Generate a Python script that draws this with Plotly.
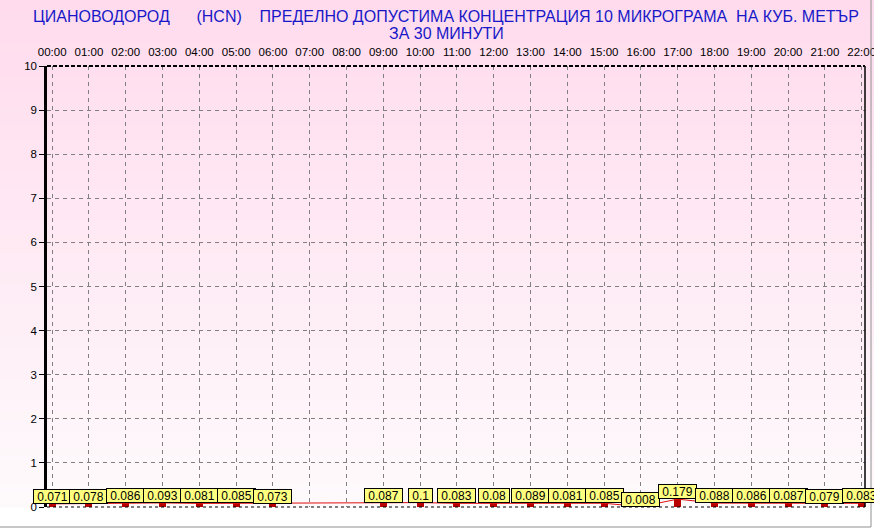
import plotly.graph_objects as go

hours = list(range(23))
hour_labels = [f"{h:02d}:00" for h in hours]
values = [0.071, 0.078, 0.086, 0.093, 0.081, 0.085, 0.073, None, None, 0.087, 0.1,
          0.083, 0.08, 0.089, 0.081, 0.085, 0.008, 0.179, 0.088, 0.086, 0.087, 0.079, 0.083]
value_labels = ["0.071", "0.078", "0.086", "0.093", "0.081", "0.085", "0.073", None, None,
                "0.087", "0.1", "0.083", "0.08", "0.089", "0.081", "0.085", "0.008", "0.179",
                "0.088", "0.086", "0.087", "0.079", "0.083"]
y_ticks = list(range(11))

title_l1 = ("ЦИАНОВОДОРОД\u00a0\u00a0\u00a0\u00a0\u00a0\u00a0(HCN)\u00a0\u00a0\u00a0\u00a0ПРЕДЕЛНО ДОПУСТИМА "
            "КОНЦЕНТРАЦИЯ 10 МИКРОГРАМА\u00a0\u00a0НА КУБ. МЕТЪР")
title_l2 = "ЗА 30 МИНУТИ"

W, H = 874, 529
ML, MR, MT, MB = 47, 9, 66, 22
pw, ph = W - ML - MR, H - MT - MB

fig = go.Figure()

fig.add_trace(go.Scatter(x=hours, y=values, mode="lines", connectgaps=True,
                         line=dict(color="#E01010", width=1), hoverinfo="skip",
                         showlegend=False))
fig.add_trace(go.Bar(x=hours, y=values, width=0.19, marker=dict(color="#B80000", line=dict(width=0)),
                     showlegend=False))

# gradient background stripes
shapes = []
x0p, x1p = -ML / pw, 1 + MR / pw
top = 1 + MT / ph
bot = 0.0
N = 80
c_top = (255, 219, 237)
c_bot = (254, 250, 252)
for i in range(N):
    t = i / (N - 1)
    r = round(c_top[0] + (c_bot[0] - c_top[0]) * t)
    g = round(c_top[1] + (c_bot[1] - c_top[1]) * t)
    b = round(c_top[2] + (c_bot[2] - c_top[2]) * t)
    ya = top - (top - bot) * i / N
    yb = top - (top - bot) * (i + 1) / N
    shapes.append(dict(type="rect", xref="paper", yref="paper", x0=x0p, x1=x1p,
                       y0=yb - 0.001, y1=ya + 0.001, fillcolor=f"rgb({r},{g},{b})",
                       line=dict(width=0), layer="below"))
# borders
shapes.append(dict(type="line", xref="paper", yref="paper", x0=0, x1=1, y0=1, y1=1,
                   line=dict(color="black", width=2, dash="4px,2px")))
shapes.append(dict(type="line", xref="paper", yref="paper", x0=0, x1=1, y0=0, y1=0,
                   line=dict(color="black", width=1, dash="3px,3px")))
shapes.append(dict(type="line", xref="paper", yref="paper", x0=1, x1=1, y0=0, y1=1,
                   line=dict(color="black", width=1.5)))
# outer frame
shapes.append(dict(type="line", xref="paper", yref="paper", x0=1 + 6 / pw, x1=1 + 6 / pw,
                   y0=-20 / ph, y1=top, line=dict(color="#909090", width=1)))
shapes.append(dict(type="line", xref="paper", yref="paper", x0=x0p, x1=1 + 6 / pw,
                   y0=-20 / ph, y1=-20 / ph, line=dict(color="#909090", width=1)))

annotations = []
for h, v, s in zip(hours, values, value_labels):
    if v is None:
        continue
    annotations.append(dict(x=h, y=v, xref="x", yref="y", text="\u00a0" + s + "\u00a0",
                            showarrow=False, yanchor="bottom", xanchor="center",
                            bgcolor="#FFFF80", bordercolor="black", borderwidth=1,
                            borderpad=0, height=13,
                            font=dict(family="Liberation Sans, Arial", size=12, color="black")))
title_x = (446 - ML) / pw
annotations.append(dict(x=title_x, y=1, xref="paper", yref="paper", yshift=MT - 6,
                        text=title_l1, showarrow=False, xanchor="center", yanchor="top",
                        font=dict(family="Liberation Sans, Arial", size=16, color="#1818C8")))
annotations.append(dict(x=title_x, y=1, xref="paper", yref="paper", yshift=MT - 23,
                        text=title_l2, showarrow=False, xanchor="center", yanchor="top",
                        font=dict(family="Liberation Sans, Arial", size=16, color="#1818C8")))

fig.update_layout(
    width=W, height=H,
    margin=dict(l=ML, r=MR, t=MT, b=MB, autoexpand=False),
    paper_bgcolor="white",
    plot_bgcolor="rgba(0,0,0,0)",
    shapes=shapes,
    annotations=annotations,
    bargap=0,
    font=dict(family="Liberation Sans, Arial", size=11.5, color="black"),
)
fig.update_xaxes(range=[-0.14, 22.09], side="top", tickvals=hours, ticktext=hour_labels,
                 automargin=False, ticklabelstandoff=7, ticklabeloverflow="allow",
                 showgrid=True, gridcolor="#808080", griddash="4px,4px", gridwidth=1,
                 zeroline=False, showline=False, ticks="", ticklen=0,
                 tickfont=dict(size=11.5, color="black"))
fig.update_yaxes(range=[0, 10], tickvals=y_ticks, showgrid=True, gridcolor="#808080",
                 automargin=False,
                 griddash="4px,4px", gridwidth=1, zeroline=False, showline=True,
                 linecolor="black", linewidth=2.5, ticks="outside", ticklen=5,
                 tickcolor="black", tickwidth=1, tickfont=dict(size=11.5, color="black"))

fig.write_html("out.html", config={"displayModeBar": False},
               post_script="document.body.style.margin='0';")
